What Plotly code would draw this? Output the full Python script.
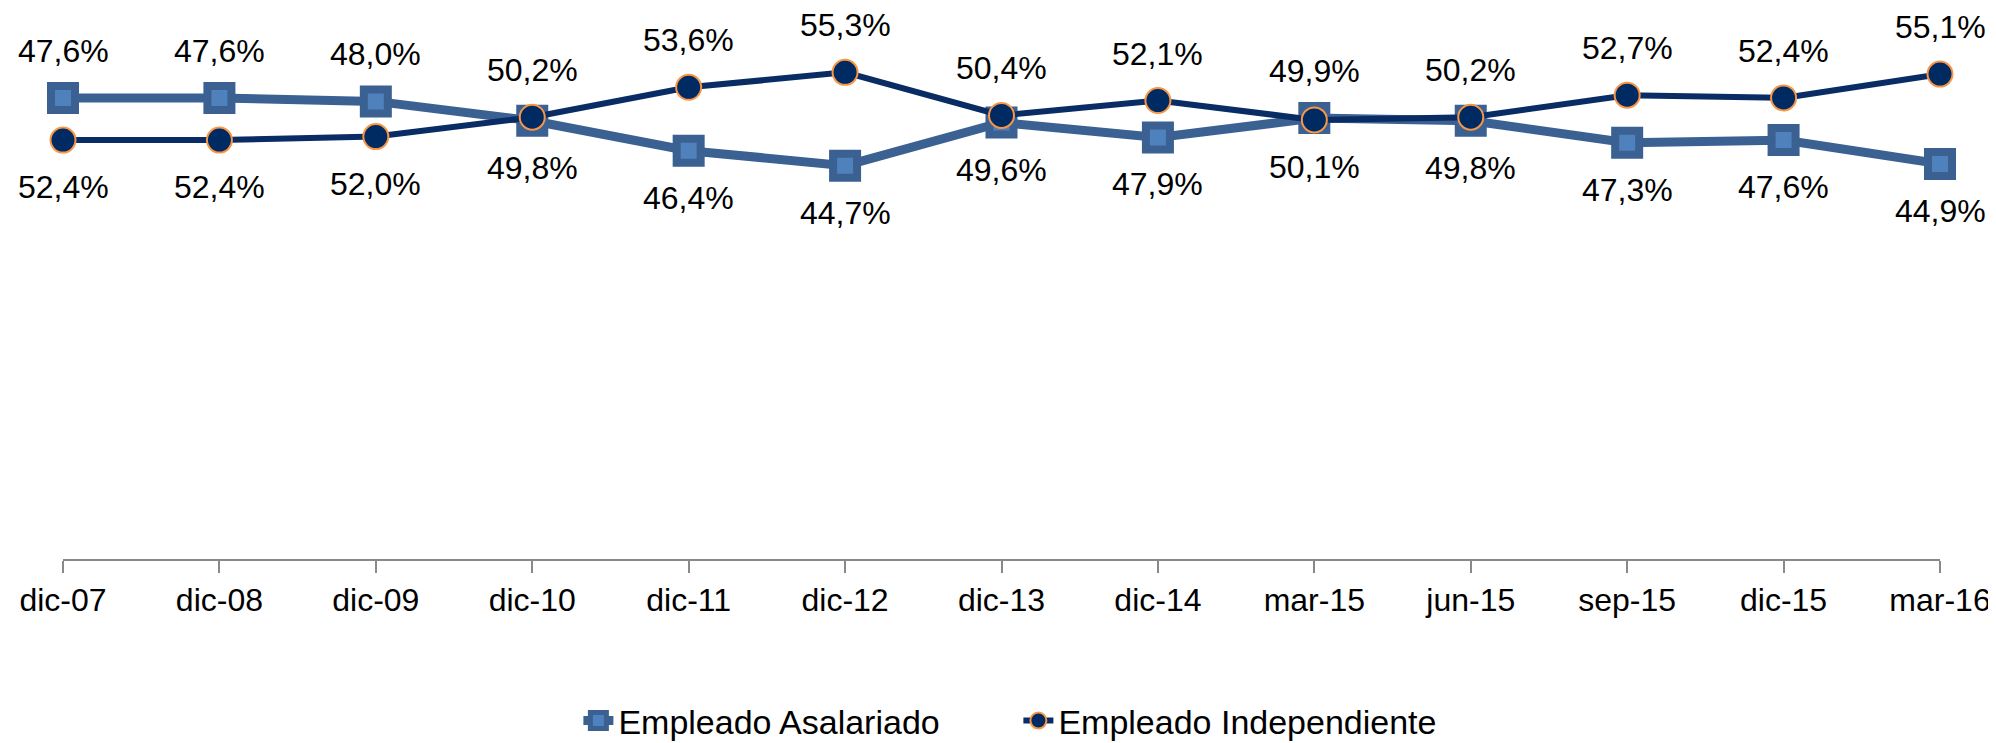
import plotly.graph_objects as go

categories = ["dic-07", "dic-08", "dic-09", "dic-10", "dic-11", "dic-12", "dic-13",
              "dic-14", "mar-15", "jun-15", "sep-15", "dic-15", "mar-16"]
asalariado = [52.4, 52.4, 52.0, 49.8, 46.4, 44.7, 49.6, 47.9, 50.1, 49.8, 47.3, 47.6, 44.9]
independiente = [47.6, 47.6, 48.0, 50.2, 53.6, 55.3, 50.4, 52.1, 49.9, 50.2, 52.7, 52.4, 55.1]

FONT = "Liberation Sans, Arial, sans-serif"

def fmt(v):
    return f"{v:.1f}".replace(".", ",") + "%"

x_idx = list(range(len(categories)))

fig = go.Figure()
fig.add_trace(go.Scatter(
    x=x_idx, y=asalariado, name="Empleado Asalariado", mode="lines+markers",
    line=dict(color="#3A6192", width=9),
    marker=dict(symbol="square", size=24, color="#4F81BD",
                line=dict(color="#3A6192", width=8)),
    cliponaxis=False,
))
fig.add_trace(go.Scatter(
    x=x_idx, y=independiente, name="Empleado Independiente", mode="lines+markers",
    line=dict(color="#082C63", width=6),
    marker=dict(symbol="circle", size=25, color="#002A62",
                line=dict(color="#F79646", width=2)),
    cliponaxis=False,
))

annotations = []
for i, (a, b) in enumerate(zip(asalariado, independiente)):
    annotations.append(dict(x=i, y=max(a, b), text=fmt(b), showarrow=False,
                            yshift=47, font=dict(family=FONT, size=32, color="black")))
    annotations.append(dict(x=i, y=min(a, b), text=fmt(a), showarrow=False,
                            yshift=-47, font=dict(family=FONT, size=32, color="black")))

fig.update_layout(
    width=1988, height=735,
    margin=dict(l=55, r=56, t=23, b=184, autoexpand=False),
    paper_bgcolor="white", plot_bgcolor="white",
    showlegend=True,
    legend=dict(orientation="h", x=0.509, xanchor="center",
                yref="container", y=0.030, yanchor="middle",
                font=dict(family=FONT, size=34, color="black"),
                itemsizing="trace", entrywidth=395, entrywidthmode="pixels"),
    annotations=annotations,
    xaxis=dict(
        range=[0, len(categories) - 1], automargin=False,
        tickmode="array", tickvals=x_idx, ticktext=categories,
        showline=True, linecolor="#898989", linewidth=2,
        ticks="outside", ticklen=12, tickcolor="#898989", tickwidth=2,
        showgrid=False, zeroline=False, ticklabeloverflow="allow",
        tickfont=dict(family=FONT, size=32, color="black"),
    ),
    yaxis=dict(range=[0, 60], visible=False, showgrid=False, zeroline=False,
               automargin=False),
)

fig.write_html("out.html")
